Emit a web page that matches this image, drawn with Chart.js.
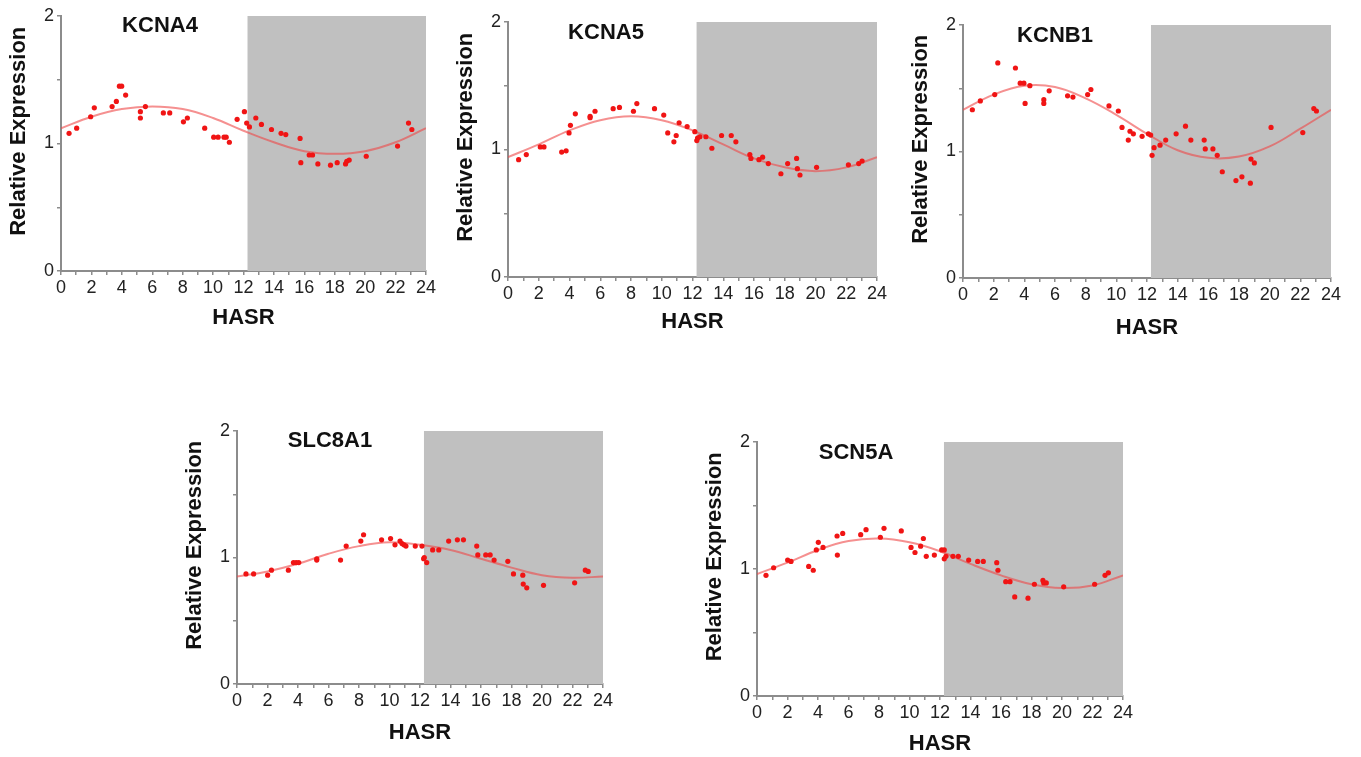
<!DOCTYPE html>
<html>

<head>
  <title>Relative Expression vs HASR</title>
  <meta content="text/html;charset=utf-8" http-equiv="Content-Type">
  <script src="https://cdn.jsdelivr.net/npm/chart.js"></script>
  <style>
    body { margin: 0; background: #fff; width: 1361px; height: 757px; position: relative; overflow: hidden; }
    canvas { position: absolute; }
    .gene { position: absolute; transform: translate(-50%, -50%); font: bold 22px "Liberation Sans", Arial, sans-serif; color: #111; white-space: nowrap; }
  </style>
</head>

<body>

  <canvas id="kcna4"></canvas>
  <canvas id="kcna5"></canvas>
  <canvas id="kcnb1"></canvas>
  <canvas id="slc8a1"></canvas>
  <canvas id="scn5a"></canvas>

  <script>
    // shaded (dark) phase and fitted-curve sample hours
    const darkStart = 12.25
    const darkEnd = 24
    const fitHours = [0, 2, 4, 6, 8, 10, 12, 14, 16, 18, 20, 22, 24]

    // KCNA4
    const kcna4Hours = [0.53, 1.03, 1.95, 2.19, 3.36, 3.64, 3.84, 3.99, 4.25, 5.22, 5.22, 5.55, 6.73, 7.15, 8.05, 8.31, 9.45, 10.04, 10.33, 10.72, 10.86, 11.07, 11.58, 12.06, 12.21, 12.39, 12.81, 13.18, 13.84, 14.47, 14.78, 15.72, 15.77, 16.32, 16.54, 16.89, 17.72, 18.16, 18.71, 18.79, 18.95, 20.07, 22.13, 22.85, 23.07]
    const kcna4Expr = [1.08, 1.12, 1.21, 1.28, 1.29, 1.33, 1.45, 1.45, 1.38, 1.25, 1.20, 1.29, 1.24, 1.24, 1.17, 1.20, 1.12, 1.05, 1.05, 1.05, 1.05, 1.01, 1.19, 1.25, 1.16, 1.13, 1.20, 1.15, 1.11, 1.08, 1.07, 1.04, 0.85, 0.91, 0.91, 0.84, 0.83, 0.85, 0.84, 0.86, 0.87, 0.90, 0.98, 1.16, 1.11]
    const kcna4Fit = [1.12, 1.21, 1.27, 1.29, 1.27, 1.20, 1.10, 1.01, 0.94, 0.92, 0.94, 1.01, 1.12]

    // KCNA5
    const kcna5Hours = [0.69, 1.19, 2.10, 2.34, 3.49, 3.78, 3.97, 4.06, 4.38, 5.34, 5.34, 5.66, 6.84, 7.25, 8.16, 8.38, 9.53, 10.13, 10.39, 10.79, 10.94, 11.13, 11.65, 12.15, 12.28, 12.33, 12.48, 12.87, 13.26, 13.89, 14.52, 14.82, 15.73, 15.80, 16.32, 16.56, 16.93, 17.75, 18.19, 18.77, 18.82, 18.99, 20.07, 22.14, 22.81, 23.03]
    const kcna5Expr = [0.92, 0.96, 1.02, 1.02, 0.98, 0.99, 1.13, 1.19, 1.28, 1.25, 1.26, 1.30, 1.32, 1.33, 1.30, 1.36, 1.32, 1.27, 1.13, 1.06, 1.11, 1.21, 1.18, 1.14, 1.07, 1.09, 1.10, 1.10, 1.01, 1.11, 1.11, 1.06, 0.96, 0.93, 0.92, 0.94, 0.89, 0.81, 0.89, 0.93, 0.85, 0.80, 0.86, 0.88, 0.89, 0.91]
    const kcna5Fit = [0.94, 1.04, 1.15, 1.23, 1.26, 1.23, 1.15, 1.04, 0.93, 0.86, 0.83, 0.86, 0.94]

    // KCNB1
    const kcnb1Hours = [0.61, 1.13, 2.07, 2.27, 3.42, 3.73, 3.97, 4.05, 4.36, 5.27, 5.27, 5.62, 6.82, 7.17, 8.13, 8.34, 9.52, 10.13, 10.37, 10.78, 10.89, 11.11, 11.68, 12.09, 12.24, 12.33, 12.46, 12.85, 13.22, 13.90, 14.51, 14.86, 15.73, 15.80, 16.30, 16.58, 16.91, 17.80, 18.19, 18.74, 18.78, 19.00, 20.09, 22.16, 22.88, 23.05]
    const kcnb1Expr = [1.33, 1.40, 1.45, 1.70, 1.66, 1.54, 1.54, 1.38, 1.52, 1.41, 1.38, 1.48, 1.44, 1.43, 1.45, 1.49, 1.36, 1.32, 1.19, 1.09, 1.16, 1.14, 1.12, 1.14, 1.13, 0.97, 1.03, 1.05, 1.09, 1.14, 1.20, 1.09, 1.09, 1.02, 1.02, 0.97, 0.84, 0.77, 0.80, 0.75, 0.94, 0.91, 1.19, 1.15, 1.34, 1.32]
    const kcnb1Fit = [1.33, 1.45, 1.52, 1.51, 1.42, 1.29, 1.14, 1.01, 0.95, 0.96, 1.04, 1.18, 1.33]

    // SLC8A1
    const slc8a1Hours = [0.59, 1.09, 2.01, 2.26, 3.37, 3.70, 3.88, 4.05, 5.23, 5.23, 6.79, 7.16, 8.12, 8.30, 9.48, 10.07, 10.36, 10.69, 10.82, 10.95, 11.08, 11.69, 12.13, 12.24, 12.28, 12.44, 12.83, 13.23, 13.88, 14.45, 14.85, 15.72, 15.79, 16.31, 16.60, 16.86, 17.76, 18.13, 18.74, 18.77, 19.00, 20.10, 22.14, 22.84, 23.03]
    const slc8a1Expr = [0.87, 0.87, 0.86, 0.90, 0.90, 0.96, 0.96, 0.96, 0.99, 0.98, 0.98, 1.09, 1.13, 1.18, 1.14, 1.15, 1.10, 1.13, 1.11, 1.10, 1.09, 1.09, 1.09, 0.99, 1.00, 0.96, 1.06, 1.06, 1.13, 1.14, 1.14, 1.09, 1.02, 1.02, 1.02, 0.98, 0.97, 0.87, 0.86, 0.79, 0.76, 0.78, 0.80, 0.90, 0.89]
    const slc8a1Fit = [0.85, 0.89, 0.95, 1.03, 1.09, 1.12, 1.10, 1.06, 0.99, 0.92, 0.86, 0.84, 0.85]

    // SCN5A
    const scn5aHours = [0.59, 1.09, 2.01, 2.23, 3.39, 3.69, 3.89, 4.02, 4.33, 5.25, 5.27, 5.62, 6.80, 7.15, 8.09, 8.33, 9.46, 10.10, 10.36, 10.73, 10.91, 11.10, 11.63, 12.11, 12.28, 12.28, 12.39, 12.85, 13.20, 13.88, 14.47, 14.84, 15.72, 15.80, 16.31, 16.59, 16.90, 17.77, 18.19, 18.75, 18.80, 18.97, 20.11, 22.14, 22.82, 23.04]
    const scn5aExpr = [0.95, 1.01, 1.07, 1.06, 1.02, 0.99, 1.15, 1.21, 1.17, 1.26, 1.11, 1.28, 1.27, 1.31, 1.25, 1.32, 1.30, 1.17, 1.13, 1.18, 1.24, 1.10, 1.11, 1.15, 1.15, 1.08, 1.10, 1.10, 1.10, 1.07, 1.06, 1.06, 1.05, 0.99, 0.90, 0.90, 0.78, 0.77, 0.88, 0.91, 0.89, 0.89, 0.86, 0.88, 0.95, 0.97]
    const scn5aFit = [0.96, 1.05, 1.15, 1.22, 1.24, 1.21, 1.14, 1.04, 0.95, 0.88, 0.85, 0.87, 0.95]

    // layout of each panel: y-axis box width, top/right padding
    const yBox = 53
    const padTop = 14
    const padRight = 18

    function toPoints(xs, ys) {
      return xs.map((x, i) => ({ x: x, y: ys[i] }))
    }

    function makePanel(id, gene, labelX, labelY, area, hours, expr, fit) {
      const canvas = document.getElementById(id)
      const left = area.left - yBox
      const top = area.top - padTop
      const width = area.right - left + padRight
      const height = area.hasr + 11 - top
      const xBox = area.hasr + 11 - area.bottom

      canvas.width = width
      canvas.height = height
      canvas.style.left = left + 'px'
      canvas.style.top = top + 'px'
      canvas.style.width = width + 'px'
      canvas.style.height = height + 'px'

      const label = document.createElement('div')
      label.className = 'gene'
      label.textContent = gene
      label.style.left = labelX + 'px'
      label.style.top = labelY + 'px'
      document.body.appendChild(label)

      const tickFont = { family: '"Liberation Sans", Arial, sans-serif', size: 18 }
      const titleFont = { family: '"Liberation Sans", Arial, sans-serif', size: 22, weight: 'bold', lineHeight: 1 }

      new Chart(canvas.getContext('2d'), {
        type: 'scatter',
        data: {
          datasets: [
            {
              type: 'scatter',
              data: toPoints(hours, expr),
              backgroundColor: 'rgb(240, 20, 20)',
              borderWidth: 0,
              pointRadius: 2.6,
              order: 1
            },
            {
              type: 'line',
              data: toPoints(fitHours, fit),
              borderColor: 'rgba(238, 70, 70, 0.6)',
              borderWidth: 2,
              pointRadius: 0,
              tension: 0.4,
              fill: false,
              order: 2
            },
            {
              type: 'line',
              data: [{ x: darkStart, y: 2 }, { x: darkEnd, y: 2 }],
              borderWidth: 0,
              borderColor: 'rgba(0,0,0,0)',
              backgroundColor: '#c0c0c0',
              pointRadius: 0,
              fill: 'origin',
              order: 3
            }
          ]
        },
        options: {
          responsive: false,
          devicePixelRatio: 1,
          animation: false,
          layout: { padding: { left: 0, top: padTop, right: padRight, bottom: 0 } },
          plugins: {
            legend: { display: false },
            tooltip: { enabled: false }
          },
          scales: {
            x: {
              type: 'linear',
              min: 0,
              max: 24,
              z: 1,
              afterFit: function (scale) { scale.height = xBox },
              border: { color: '#8c8c8c', width: 2 },
              grid: { drawOnChartArea: false, drawTicks: true, tickLength: 4, color: '#8c8c8c', lineWidth: 1.5 },
              ticks: {
                stepSize: 1,
                autoSkip: false,
                maxRotation: 0,
                padding: 2,
                color: '#222',
                font: tickFont,
                callback: function (v) { return v % 2 === 0 ? v : '' }
              },
              title: { display: true, text: 'HASR', color: '#111', font: titleFont, padding: 0 }
            },
            y: {
              type: 'linear',
              min: 0,
              max: 2,
              z: 1,
              afterFit: function (scale) { scale.width = yBox },
              border: { color: '#8c8c8c', width: 2 },
              grid: { drawOnChartArea: false, drawTicks: true, tickLength: 4, color: '#8c8c8c', lineWidth: 1.5 },
              ticks: {
                stepSize: 0.5,
                autoSkip: false,
                padding: 3,
                color: '#222',
                font: tickFont,
                callback: function (v) { return v % 1 === 0 ? v : '' }
              },
              // leading spaces nudge the rotated title up a little, as in the original
              title: { display: true, text: '    Relative Expression', color: '#111', font: titleFont, padding: 0 }
            }
          }
        }
      })
    }

    makePanel('kcna4', 'KCNA4', 160, 25, { left: 61, top: 16, right: 426, bottom: 271, hasr: 318 }, kcna4Hours, kcna4Expr, kcna4Fit)
    makePanel('kcna5', 'KCNA5', 606, 32, { left: 508, top: 22, right: 877, bottom: 277, hasr: 322 }, kcna5Hours, kcna5Expr, kcna5Fit)
    makePanel('kcnb1', 'KCNB1', 1055, 35, { left: 963, top: 25, right: 1331, bottom: 278, hasr: 328 }, kcnb1Hours, kcnb1Expr, kcnb1Fit)
    makePanel('slc8a1', 'SLC8A1', 330, 440, { left: 237, top: 431, right: 603, bottom: 684, hasr: 733 }, slc8a1Hours, slc8a1Expr, slc8a1Fit)
    makePanel('scn5a', 'SCN5A', 856, 452, { left: 757, top: 442, right: 1123, bottom: 696, hasr: 744 }, scn5aHours, scn5aExpr, scn5aFit)
  </script>
</body>

</html>
